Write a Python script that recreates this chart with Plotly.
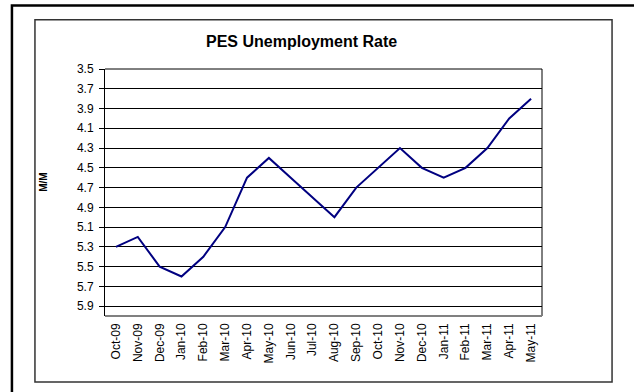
import plotly.graph_objects as go

# Monthly PES unemployment rate, Oct-09 .. May-11
months = ["Oct-09", "Nov-09", "Dec-09", "Jan-10", "Feb-10", "Mar-10", "Apr-10",
          "May-10", "Jun-10", "Jul-10", "Aug-10", "Sep-10", "Oct-10", "Nov-10",
          "Dec-10", "Jan-11", "Feb-11", "Mar-11", "Apr-11", "May-11"]
rate = [5.3, 5.2, 5.5, 5.6, 5.4, 5.1, 4.6, 4.4, 4.6, 4.8, 5.0, 4.7, 4.5, 4.3,
        4.5, 4.6, 4.5, 4.3, 4.0, 3.8]
y_ticks = [3.5, 3.7, 3.9, 4.1, 4.3, 4.5, 4.7, 4.9, 5.1, 5.3, 5.5, 5.7, 5.9]

W, H = 634, 392
PL, PR, PT, PB = 105, 541.7, 69.3, 316  # plot area in pixels

def px(xp):
    return (xp - PL) / (PR - PL)

def py(yp):
    return (PB - yp) / (PB - PT)

FONT = "Liberation Sans, Arial, sans-serif"

fig = go.Figure(go.Scatter(
    x=months, y=rate, mode="lines",
    line=dict(color="#000080", width=2),
    hoverinfo="x+y",
))

shapes = [
    # frame of the plot area
    dict(type="line", xref="paper", yref="paper", x0=0, x1=1, y0=1, y1=1,
         line=dict(color="black", width=1)),
    dict(type="line", xref="paper", yref="paper", x0=1, x1=1, y0=0, y1=1,
         line=dict(color="black", width=1)),
    dict(type="line", xref="paper", yref="paper", x0=0, x1=1, y0=0, y1=0,
         line=dict(color="#808080", width=2)),
    # chart box
    dict(type="rect", xref="paper", yref="paper",
         x0=px(35), x1=px(611.7), y0=py(382), y1=py(20),
         line=dict(color="#333333", width=1.5), layer="below"),
    # outer page frame (left and top edges)
    dict(type="rect", xref="paper", yref="paper",
         x0=px(12), x1=px(W + 20), y0=py(H + 20), y1=py(6),
         line=dict(color="black", width=2.5), layer="below"),
]

annotations = [
    dict(text="<b>PES Unemployment Rate</b>", xref="paper", yref="paper",
         x=px(301), y=py(41.5), xanchor="center", yanchor="middle",
         showarrow=False, font=dict(family=FONT, size=16, color="black")),
    dict(text="<b>M/M</b>", xref="paper", yref="paper",
         x=px(43.5), y=py(182.5), xanchor="center", yanchor="middle",
         textangle=-90, showarrow=False,
         font=dict(family=FONT, size=10, color="black")),
]

fig.update_layout(
    width=W, height=H,
    margin=dict(l=PL, r=W - PR, t=PT, b=H - PB, pad=0),
    paper_bgcolor="white", plot_bgcolor="white",
    showlegend=False,
    shapes=shapes,
    annotations=annotations,
    font=dict(family=FONT, color="black"),
    xaxis=dict(
        type="category", range=[-0.5, len(months) - 0.5],
        tickangle=-90, ticks="", showgrid=False, zeroline=False,
        showline=False, tickfont=dict(size=12, color="black"),
        ticklabelstandoff=4,
    ),
    yaxis=dict(
        range=[6.0, 3.5], tickvals=y_ticks,
        ticktext=[f"{v:.1f}" for v in y_ticks],
        ticks="outside", ticklen=5, tickcolor="black", tickwidth=1,
        showline=True, linecolor="black", linewidth=1,
        showgrid=True, gridcolor="black", gridwidth=1,
        zeroline=False, tickfont=dict(size=12, color="black"),
        ticklabelstandoff=3,
    ),
)

fig.write_html("out.html")
